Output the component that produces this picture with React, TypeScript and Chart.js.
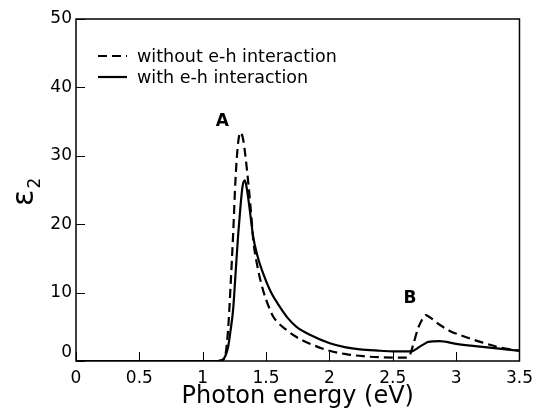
import React, { useEffect, useRef } from 'react';
import { Chart, registerables } from 'chart.js';

Chart.register(...registerables);

// ---- data ----
const energyWithout = [0, 0.5, 1.0, 1.12, 1.16, 1.18, 1.2, 1.22, 1.24, 1.26, 1.28, 1.3, 1.32, 1.34, 1.36, 1.38, 1.4, 1.43, 1.477, 1.52, 1.556, 1.6, 1.65, 1.74, 1.85, 2.0, 2.13, 2.266, 2.4, 2.53, 2.608, 2.63, 2.66, 2.7, 2.73, 2.76, 2.8, 2.87, 2.95, 3.03, 3.19, 3.34, 3.5];
const eps2Without = [0, 0, 0, 0, 0.2, 1.0, 4.5, 11, 18.5, 27, 32, 33.4, 32.3, 29.5, 26, 22, 17.5, 14, 10.3, 8.0, 6.5, 5.5, 4.7, 3.5, 2.5, 1.5, 1.0, 0.7, 0.55, 0.5, 0.5, 0.7, 2.3, 4.8, 6.0, 6.7, 6.3, 5.3, 4.4, 3.8, 2.8, 2.0, 1.5];

const energyWith = [0, 0.5, 1.0, 1.12, 1.16, 1.18, 1.2, 1.22, 1.24, 1.26, 1.28, 1.3, 1.315, 1.333, 1.35, 1.372, 1.398, 1.43, 1.477, 1.54, 1.609, 1.67, 1.74, 1.85, 2.003, 2.13, 2.24, 2.4, 2.5, 2.647, 2.68, 2.713, 2.75, 2.78, 2.87, 3.0, 3.19, 3.34, 3.5];
const eps2With = [0, 0, 0, 0, 0.2, 0.8, 2.0, 4.5, 7.5, 13, 18.5, 23, 25.6, 26.4, 25, 22, 18.2, 15.5, 12.8, 10, 7.9, 6.3, 5.0, 3.8, 2.6, 2.0, 1.7, 1.5, 1.4, 1.4, 1.7, 2.1, 2.5, 2.8, 2.9, 2.5, 2.1, 1.8, 1.5];

const seriesLabels = ['without e-h interaction', 'with e-h interaction'];
const xTickValues = [0, 0.5, 1, 1.5, 2, 2.5, 3, 3.5];
const yTickValues = [0, 10, 20, 30, 40, 50];
const peakLabels = ['A', 'B'];
const peakLabelX = [1.155, 2.636];
const peakLabelY = [35.0, 9.1];
const xTitle = 'Photon energy (eV)';
const yTitleMain = 'ε';
const yTitleSub = '2';

const FONT = '"DejaVu Sans", "Liberation Sans", Arial, sans-serif';
const DASH = [9, 5];

const decorPlugin = {
  id: 'decor',
  afterDatasetsDraw(chart: any) {
    const { ctx, chartArea: a, scales } = chart;
    const x = scales.x;
    const y = scales.y;
    ctx.save();
    ctx.strokeStyle = '#000';
    ctx.fillStyle = '#000';
    // inward ticks
    ctx.lineWidth = 1;
    xTickValues.forEach((v) => {
      const px = Math.round(x.getPixelForValue(v)) + 0.5;
      ctx.beginPath();
      ctx.moveTo(px, a.bottom);
      ctx.lineTo(px, a.bottom - 9);
      ctx.stroke();
    });
    yTickValues.forEach((v) => {
      const py = Math.round(y.getPixelForValue(v)) + 0.5;
      ctx.beginPath();
      ctx.moveTo(a.left, py);
      ctx.lineTo(a.left + 9, py);
      ctx.stroke();
    });
    // frame
    ctx.lineWidth = 1.5;
    ctx.strokeRect(a.left, a.top, a.right - a.left, a.bottom - a.top);

    // legend
    const lx0 = a.left + 22;
    const lx1 = a.left + 51;
    const tx = a.left + 61;
    const rows = [a.top + 37, a.top + 58];
    ctx.lineWidth = 2.2;
    ctx.font = `17.5px ${FONT}`;
    ctx.textAlign = 'left';
    ctx.textBaseline = 'middle';
    seriesLabels.forEach((lab, i) => {
      ctx.setLineDash(i === 0 ? DASH : []);
      ctx.beginPath();
      ctx.moveTo(lx0, rows[i]);
      ctx.lineTo(lx1, rows[i]);
      ctx.stroke();
      ctx.fillText(lab, tx, rows[i] + 1);
    });
    ctx.setLineDash([]);

    // peak labels
    ctx.font = `bold 17px ${FONT}`;
    ctx.textAlign = 'center';
    ctx.textBaseline = 'middle';
    peakLabels.forEach((lab, i) => {
      ctx.fillText(lab, x.getPixelForValue(peakLabelX[i]), y.getPixelForValue(peakLabelY[i]));
    });

    // y title: epsilon with subscript 2, rotated
    ctx.translate(25, 198);
    ctx.rotate(-Math.PI / 2);
    ctx.font = `30px ${FONT}`;
    ctx.textAlign = 'center';
    ctx.textBaseline = 'middle';
    ctx.fillText(yTitleMain, 0, 0);
    ctx.font = `17px ${FONT}`;
    ctx.fillText(yTitleSub, 15, 11);
    ctx.restore();
  },
};

export default function App() {
  const ref = useRef<HTMLCanvasElement | null>(null);
  useEffect(() => {
    if (!ref.current) return;
    const chart = new Chart(ref.current, {
      type: 'line',
      data: {
        datasets: [
          {
            label: seriesLabels[0],
            data: energyWithout.map((e, i) => ({ x: e, y: eps2Without[i] })),
            borderColor: '#000',
            borderWidth: 2.2,
            borderDash: DASH,
            pointRadius: 0,
            fill: false,
            cubicInterpolationMode: 'monotone',
          },
          {
            label: seriesLabels[1],
            data: energyWith.map((e, i) => ({ x: e, y: eps2With[i] })),
            borderColor: '#000',
            borderWidth: 2.2,
            pointRadius: 0,
            fill: false,
            cubicInterpolationMode: 'monotone',
          },
        ],
      },
      options: {
        responsive: false,
        animation: false,
        devicePixelRatio: 1,
        layout: { padding: { top: 19, right: 20, left: 0, bottom: 0 } },
        plugins: { legend: { display: false }, tooltip: { enabled: false } },
        scales: {
          x: {
            type: 'linear',
            min: 0,
            max: 3.5,
            afterBuildTicks: (s: any) => {
              s.ticks = xTickValues.map((v) => ({ value: v }));
            },
            afterFit: (s: any) => {
              s.height = 52;
            },
            grid: { display: false, drawTicks: false },
            border: { display: false },
            ticks: {
              padding: 7,
              color: '#000',
              font: { family: FONT, size: 17 },
              maxRotation: 0,
              autoSkip: false,
              callback: (v: any) => String(v),
            },
            title: {
              display: true,
              text: xTitle,
              color: '#000',
              font: { family: FONT, size: 24 },
              padding: { top: 0, bottom: 2 },
            },
          },
          y: {
            type: 'linear',
            min: 0,
            max: 50,
            afterBuildTicks: (s: any) => {
              s.ticks = yTickValues.map((v) => ({ value: v }));
            },
            afterFit: (s: any) => {
              s.width = 76;
            },
            grid: { display: false, drawTicks: false },
            border: { display: false },
            ticks: {
              padding: 4,
              color: '#000',
              font: { family: FONT, size: 17, lineHeight: 1.0 },
              autoSkip: false,
              callback: (v: any) => (v === 0 ? ['0', ''] : String(v)),
            },
          },
        },
      },
      plugins: [decorPlugin],
    } as any);
    return () => chart.destroy();
  }, []);
  return (
    <div style={{ position: 'absolute', left: 0, top: 0, width: 540, height: 413, background: '#fff' }}>
      <canvas ref={ref} width={540} height={413} style={{ display: 'block' }} />
    </div>
  );
}
